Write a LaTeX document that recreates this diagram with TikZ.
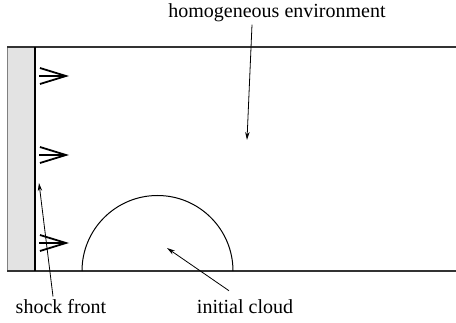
\documentclass[tikz,border=0pt]{standalone}
\usepackage{fontspec}
\setmainfont{Liberation Serif}
\usepackage{xcolor}
\definecolor{wallgrey}{HTML}{E3E3E3}
\definecolor{edge}{HTML}{333333}
\usetikzlibrary{arrows.meta}

\begin{document}
\begin{tikzpicture}[x=0.5pt,y=0.5pt,
  lbl/.style={font=\fontsize{10}{12}\selectfont,anchor=base,inner sep=1pt},
  ptr/.style={-{Stealth[length=4pt,width=2.2pt]},line width=0.4pt},
  push/.style={-{Straight Barb[length=13pt,width=8pt]},line width=0.9pt},
  bnd/.style={draw=edge,line width=0.6pt}]
  \useasboundingbox (0,0) rectangle (456,322);
  % wall and shock front
  \fill[wallgrey] (7,51) rectangle (35,275);
  \draw[draw=gray,line width=0.4pt] (7,51) -- (7,275);
  \draw[bnd] (7,275) -- (456,275);
  \draw[bnd] (7,51) -- (456,51);
  \draw[line width=1pt] (35,51) -- (35,275);
  \foreach \y in {246,167,79}
    \draw[push] (39,\y) -- (69,\y);
  % cloud
  \draw[line width=0.5pt] (233,51) arc[start angle=0,end angle=180,radius=75.5];
  % labels
  \node[lbl] (env)   at (277,304) {homogeneous environment};
  \node[lbl] (shock) at (61,9)    {shock front};
  \node[lbl] (cloud) at (245,9)   {initial cloud};
  \coordinate (envtip)   at (247,182);
  \coordinate (shocktip) at (39,139);
  \coordinate (cloudtip) at (167,74);
  \draw[ptr] ([xshift=-12.5pt]env.south) -- (envtip);
  \draw[ptr] ([xshift=-4pt]shock.north) -- (shocktip);
  \draw[ptr] ([xshift=-8pt,yshift=3pt]cloud.north) -- (cloudtip);
\end{tikzpicture}
\end{document}
